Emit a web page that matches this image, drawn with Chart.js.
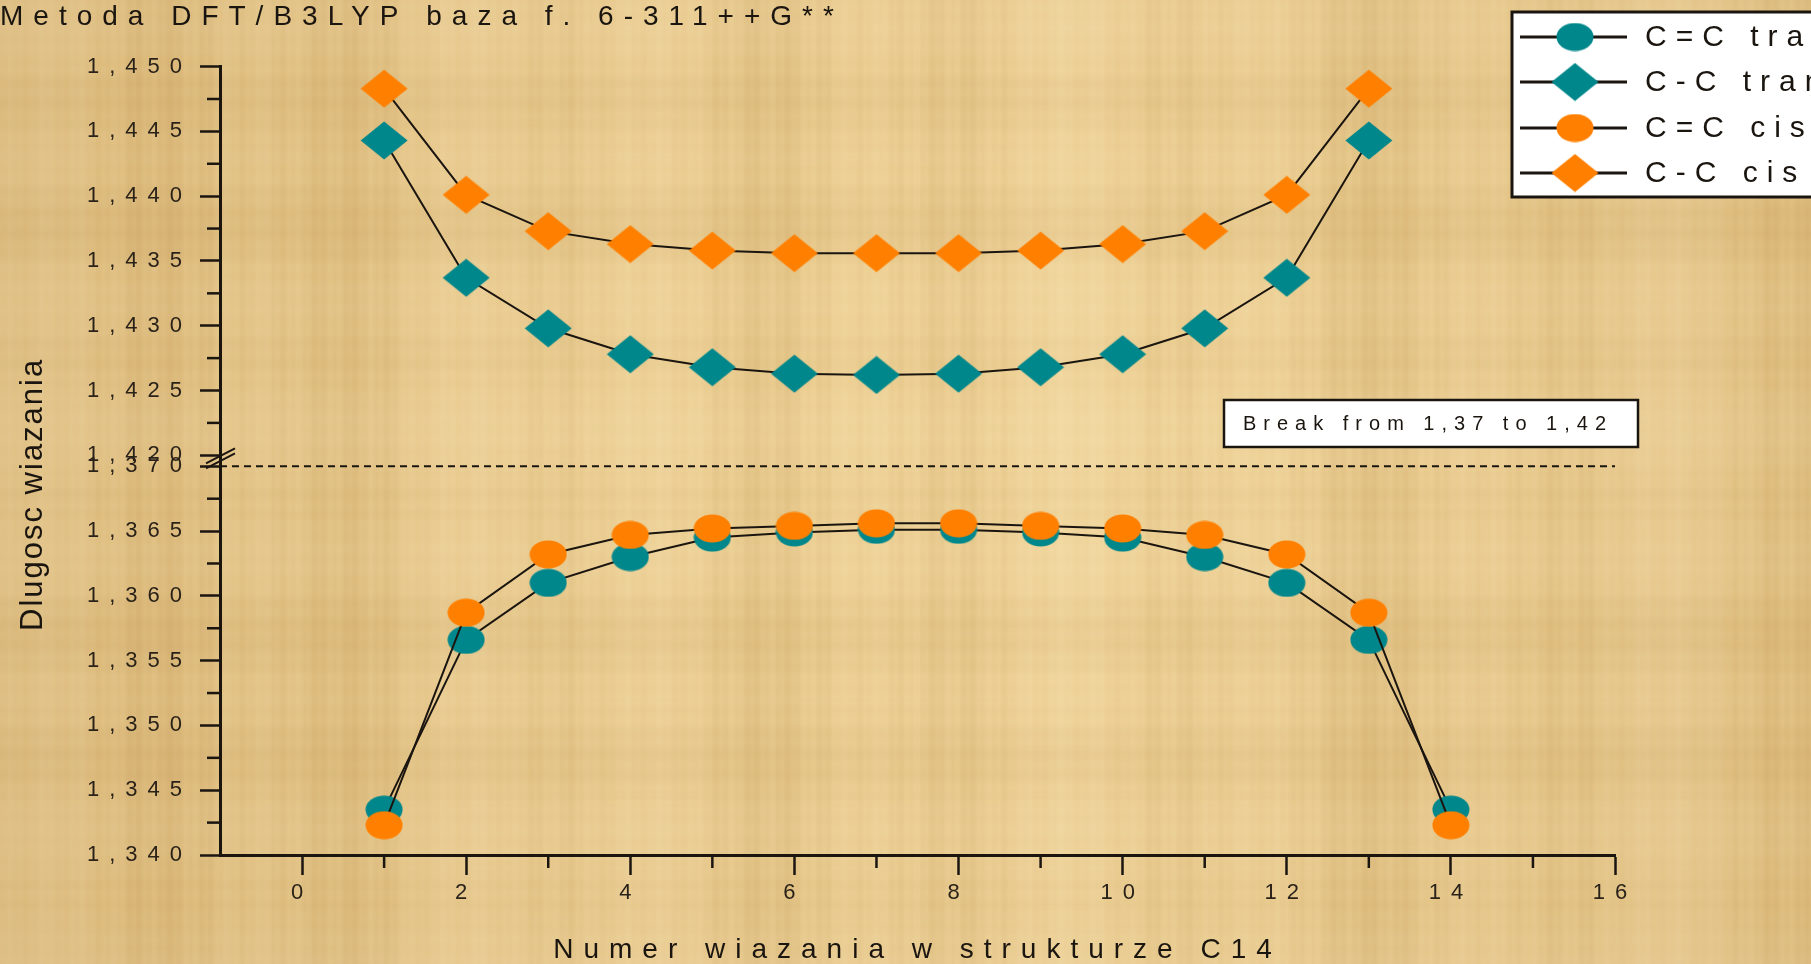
<!DOCTYPE html>
<html lang="pl">
<head>
<meta charset="utf-8">
<title>Dlugosc wiazania</title>
<script src="https://cdn.jsdelivr.net/npm/chart.js@4.4.1/dist/chart.umd.min.js"></script>
<style>
  html, body { margin: 0; padding: 0; overflow: hidden; background: #ebcd90; }
  #stage { position: relative; width: 1811px; height: 964px; }
  #paper, #chart { position: absolute; left: 0; top: 0; }
</style>
</head>
<body>
<div id="stage">
  <canvas id="paper" width="1811" height="964"></canvas>
  <canvas id="chart" width="1811" height="964"></canvas>
</div>
<script>
// Bond numbers along the C14 chain
const bondsSingle = [1, 2, 3, 4, 5, 6, 7, 8, 9, 10, 11, 12, 13];
const bondsDouble = [1, 2, 3, 4, 5, 6, 7, 8, 9, 10, 11, 12, 13, 14];

// Bond lengths (Å), DFT/B3LYP 6-311++G**
const doubleTrans = [1.3435, 1.3566, 1.3610, 1.3630, 1.3645, 1.3649, 1.3651,
                     1.3651, 1.3649, 1.3645, 1.3630, 1.3610, 1.3566, 1.3435];
const singleTrans = [1.4443, 1.4337, 1.4298, 1.4278, 1.4268, 1.4263, 1.4262,
                     1.4263, 1.4268, 1.4278, 1.4298, 1.4337, 1.4443];
const doubleCis   = [1.3423, 1.3587, 1.3632, 1.3647, 1.3652, 1.3654, 1.3656,
                     1.3656, 1.3654, 1.3652, 1.3647, 1.3632, 1.3587, 1.3423];
const singleCis   = [1.4483, 1.4401, 1.4373, 1.4363, 1.4358, 1.4356, 1.4356,
                     1.4356, 1.4358, 1.4363, 1.4373, 1.4401, 1.4483];

const seriesNames = ['C=C trans', 'C-C trans', 'C=C cis', 'C-C cis'];

// Tick labels of the broken value axis and of the bond axis
const lowTicks  = [1.340, 1.345, 1.350, 1.355, 1.360, 1.365, 1.370];
const highTicks = [1.420, 1.425, 1.430, 1.435, 1.440, 1.445, 1.450];
const xTicks    = [0, 2, 4, 6, 8, 10, 12, 14, 16];

const chartTitle = 'Metoda DFT/B3LYP baza f. 6-311++G**';
const xTitle = 'Numer wiazania w strukturze C14';
const yTitle = 'Dlugosc wiazania';
const breakLabel = 'Break from 1,37 to 1,42';

const FONT = "'Liberation Sans', Arial, sans-serif";
const INK = '#1b1510';
const TEAL = '#00878b';
const ORANGE = '#ff8000';

// ---- parchment background ----
(function paintPaper() {
  const cv = document.getElementById('paper');
  const g = cv.getContext('2d');
  const W = cv.width, H = cv.height;
  g.fillStyle = '#ebcd90';
  g.fillRect(0, 0, W, H);
  for (let x = 0; x < W; x += 2) {
    const s = Math.sin(x * 0.031) * 0.45 + Math.sin(x * 0.0113 + 1.7) * 0.35 +
              Math.sin(x * 0.173 + 0.4) * 0.25 + Math.sin(x * 0.61 + 2.2) * 0.18;
    g.fillStyle = s > 0 ? `rgba(255,240,200,${s * 0.2})` : `rgba(165,118,45,${-s * 0.16})`;
    g.fillRect(x, 0, 2, H);
  }
  for (let y = 0; y < H; y += 2) {
    const s = Math.sin(y * 0.047 + 0.3) * 0.5 + Math.sin(y * 0.0131 + 2.1) * 0.4 +
              Math.sin(y * 0.29) * 0.2;
    g.fillStyle = s > 0 ? `rgba(255,240,200,${s * 0.12})` : `rgba(165,118,45,${-s * 0.1})`;
    g.fillRect(0, y, W, 2);
  }
  const rg = g.createRadialGradient(W * 0.55, H * 0.45, 200, W * 0.55, H * 0.45, 1100);
  rg.addColorStop(0, 'rgba(255,236,190,0.12)');
  rg.addColorStop(1, 'rgba(150,100,35,0.18)');
  g.fillStyle = rg;
  g.fillRect(0, 0, W, H);
})();

// ---- marker images (slightly wide ellipse and diamond) ----
function ellipseMarker(color, w, h) {
  const c = document.createElement('canvas');
  c.width = w; c.height = h;
  const g = c.getContext('2d');
  g.fillStyle = color;
  g.beginPath();
  g.ellipse(w / 2, h / 2, w / 2 - 0.5, h / 2 - 0.5, 0, 0, Math.PI * 2);
  g.fill();
  return c;
}
function diamondMarker(color, w, h) {
  const c = document.createElement('canvas');
  c.width = w; c.height = h;
  const g = c.getContext('2d');
  g.fillStyle = color;
  g.beginPath();
  g.moveTo(w / 2, 0.5); g.lineTo(w - 0.5, h / 2);
  g.lineTo(w / 2, h - 0.5); g.lineTo(0.5, h / 2);
  g.closePath();
  g.fill();
  return c;
}
const tealDot = ellipseMarker(TEAL, 38, 29);
const orangeDot = ellipseMarker(ORANGE, 38, 29);
const tealDiamond = diamondMarker(TEAL, 48, 39);
const orangeDiamond = diamondMarker(ORANGE, 48, 39);

const toPoints = (xs, ys) => xs.map((x, i) => ({ x, y: ys[i] }));

function series(label, xs, ys, axis, marker, order) {
  return {
    label,
    data: toPoints(xs, ys),
    yAxisID: axis,
    borderColor: INK,
    borderWidth: 2,
    backgroundColor: marker,
    pointStyle: marker,
    pointRadius: 20,
    tension: 0,
    clip: false,
    order
  };
}

const datasets = [
  series(seriesNames[0], bondsDouble, doubleTrans, 'yLow', tealDot, 1),
  series(seriesNames[1], bondsSingle, singleTrans, 'yHigh', tealDiamond, 1),
  series(seriesNames[2], bondsDouble, doubleCis, 'yLow', orangeDot, 0),
  series(seriesNames[3], bondsSingle, singleCis, 'yHigh', orangeDiamond, 0)
];

const fmtTick = v => Number(v).toFixed(3).replace('.', ',');
const tickFont = { family: FONT, size: 22, lineHeight: 1.2 };

function valueAxis(ticks, min, max, weight) {
  return {
    type: 'linear',
    position: 'left',
    stack: 'value',
    stackWeight: weight,
    min, max,
    afterBuildTicks: s => { s.ticks = ticks.map(v => ({ value: v })); },
    afterFit: s => { s.width = 220; },
    border: { display: true, color: INK, width: 3 },
    grid: { drawOnChartArea: false, drawTicks: true, tickLength: 20, tickWidth: 2.5, tickColor: INK },
    ticks: { autoSkip: false, color: '#2a2219', font: tickFont, padding: 8, callback: fmtTick },
    title: { display: false }
  };
}

// letter spacing used by the axis and title text
const spacing = {
  id: 'spacing',
  beforeDraw(chart) { chart.ctx.letterSpacing = '10px'; }
};

// minor ticks, axis break, break note, vertical title and legend
const decor = {
  id: 'decor',
  afterDraw(chart) {
    const ctx = chart.ctx;
    const xs = chart.scales.x, lo = chart.scales.yLow, hi = chart.scales.yHigh;
    ctx.save();
    ctx.strokeStyle = INK;
    ctx.lineWidth = 2.5;
    ctx.setLineDash([]);

    // minor ticks halfway between labelled ticks
    [lo, hi].forEach((sc, k) => {
      const t = k === 0 ? lowTicks : highTicks;
      for (let i = 0; i < t.length - 1; i++) {
        const py = sc.getPixelForValue((t[i] + t[i + 1]) / 2);
        ctx.beginPath(); ctx.moveTo(sc.right - 13, py); ctx.lineTo(sc.right, py); ctx.stroke();
      }
    });
    for (let i = 0; i < xTicks.length - 1; i++) {
      const px = xs.getPixelForValue((xTicks[i] + xTicks[i + 1]) / 2);
      ctx.beginPath(); ctx.moveTo(px, xs.top); ctx.lineTo(px, xs.top + 13); ctx.stroke();
    }

    // dashed line marking the break
    const yb = lo.getPixelForValue(lowTicks[lowTicks.length - 1]);
    ctx.lineWidth = 2;
    ctx.setLineDash([7, 5]);
    ctx.beginPath(); ctx.moveTo(lo.right, yb); ctx.lineTo(xs.right, yb); ctx.stroke();
    ctx.setLineDash([]);

    // break symbol on the axis
    const ax = lo.right;
    const yt = hi.getPixelForValue(highTicks[0]);
    ctx.lineWidth = 2;
    ctx.beginPath();
    ctx.moveTo(ax - 14, yt + 8); ctx.lineTo(ax + 15, yt - 7);
    ctx.moveTo(ax - 14, yb + 2); ctx.lineTo(ax + 15, yb - 13);
    ctx.stroke();

    // break note box
    ctx.fillStyle = '#ffffff';
    ctx.fillRect(1224, 400, 414, 47);
    ctx.lineWidth = 2.5;
    ctx.strokeRect(1224, 400, 414, 47);
    ctx.fillStyle = INK;
    ctx.font = `20px ${FONT}`;
    ctx.letterSpacing = '7px';
    ctx.textAlign = 'left';
    ctx.textBaseline = 'middle';
    ctx.fillText(breakLabel, 1243, 424);

    // vertical axis title
    ctx.save();
    ctx.letterSpacing = '2px';
    ctx.font = `31px ${FONT}`;
    ctx.textBaseline = 'alphabetic';
    ctx.translate(42, 631);
    ctx.rotate(-Math.PI / 2);
    ctx.fillText(yTitle, 0, 0);
    ctx.restore();

    // legend
    const lx = 1512, ly = 12;
    ctx.fillStyle = '#ffffff';
    ctx.fillRect(lx, ly, 330, 185);
    ctx.lineWidth = 3;
    ctx.strokeStyle = INK;
    ctx.strokeRect(lx, ly, 330, 185);
    const rows = [37, 82, 128, 173];
    ctx.font = `30px ${FONT}`;
    ctx.letterSpacing = '9px';
    ctx.textBaseline = 'middle';
    chart.data.datasets.forEach((ds, i) => {
      const ry = rows[i];
      ctx.lineWidth = 3;
      ctx.beginPath(); ctx.moveTo(1520, ry); ctx.lineTo(1627, ry); ctx.stroke();
      const img = ds.pointStyle;
      ctx.drawImage(img, 1575 - img.width / 2, ry - img.height / 2);
      ctx.fillStyle = INK;
      ctx.fillText(ds.label, 1645, ry + 1);
    });
    ctx.restore();
  }
};

new Chart(document.getElementById('chart'), {
  type: 'line',
  data: { datasets },
  options: {
    responsive: false,
    animation: false,
    events: [],
    layout: { padding: { left: 0, right: 196, top: 0, bottom: 0 } },
    plugins: {
      legend: { display: false },
      tooltip: { enabled: false },
      title: {
        display: true,
        text: chartTitle,
        align: 'start',
        color: INK,
        font: { family: FONT, size: 28, weight: 'normal', lineHeight: 1.2 },
        padding: { top: 0, bottom: 33 }
      }
    },
    scales: {
      x: {
        type: 'linear',
        min: -1,
        max: 16,
        afterBuildTicks: s => { s.ticks = xTicks.map(v => ({ value: v })); },
        afterFit: s => { s.height = 109; },
        border: { display: true, color: INK, width: 3 },
        grid: { drawOnChartArea: false, drawTicks: true, tickLength: 20, tickWidth: 2.5, tickColor: INK },
        ticks: { autoSkip: false, maxRotation: 0, color: '#2a2219', font: tickFont, padding: 5 },
        title: {
          display: true,
          text: xTitle,
          color: INK,
          font: { family: FONT, size: 28, lineHeight: 1.2 },
          padding: { top: 0, bottom: -3 }
        }
      },
      yLow: valueAxis(lowTicks, 1.340, 1.370, 3.0),
      yHigh: valueAxis(highTicks, 1.41915, 1.450, 3.085)
    }
  },
  plugins: [spacing, decor]
});
</script>
</body>
</html>
